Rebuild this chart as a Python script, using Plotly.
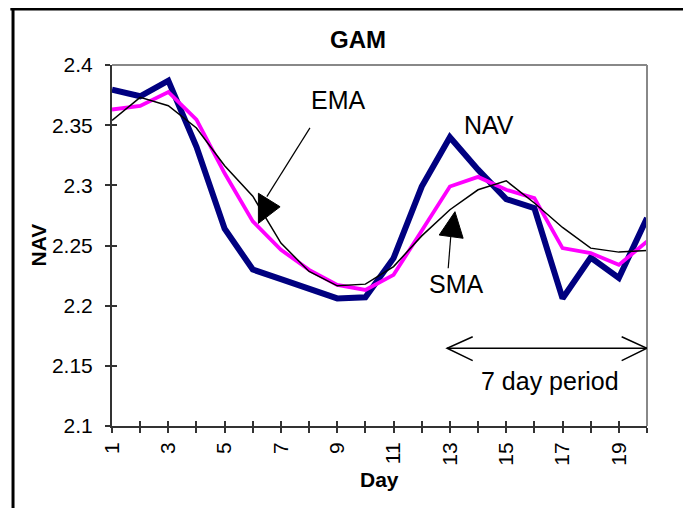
import plotly.graph_objects as go

# Day-by-day NAV for GAM with its simple and exponential moving averages
days = list(range(1, 21))
nav = [2.3795, 2.374, 2.387, 2.332, 2.264, 2.230, 2.222, 2.2146, 2.206, 2.207,
       2.2395, 2.299, 2.340, 2.313, 2.2886, 2.281, 2.206, 2.240, 2.223, 2.2728]
sma = [2.363, 2.366, 2.3776, 2.3546, 2.310, 2.270, 2.2464, 2.2298, 2.2173, 2.2131,
       2.2256, 2.262, 2.299, 2.307, 2.2963, 2.2894, 2.2478, 2.2437, 2.2339, 2.2533]
ema = [2.354, 2.3731, 2.3662, 2.3477, 2.3163, 2.291, 2.252, 2.2284, 2.2165, 2.2179,
       2.2325, 2.258, 2.2797, 2.2963, 2.3038, 2.2853, 2.265, 2.2478, 2.2445, 2.2459]

x_ticktext = [str(d) if d % 2 == 1 else "" for d in days]
y_tickvals = [2.1, 2.15, 2.2, 2.25, 2.3, 2.35, 2.4]
y_ticktext = ["2.1", "2.15", "2.2", "2.25", "2.3", "2.35", "2.4"]

FONT = "Arial, Liberation Sans, sans-serif"
AXIS = "#333333"

fig = go.Figure()
fig.add_trace(go.Scatter(x=days, y=nav, mode="lines", name="NAV",
                         line=dict(color="#000080", width=6)))
fig.add_trace(go.Scatter(x=days, y=sma, mode="lines", name="SMA",
                         line=dict(color="#FF00FF", width=3.8)))
# EMA sits on the overlay axes, which also carry the inner half of the ticks
fig.add_trace(go.Scatter(x=days, y=ema, mode="lines", name="EMA",
                         xaxis="x2", yaxis="y2",
                         line=dict(color="black", width=1.5)))

# page body has an 8px margin, so the figure is laid out 8px up/left
fig.update_layout(
    width=691, height=508,
    margin=dict(l=104, r=52, t=57, b=90),
    paper_bgcolor="white", plot_bgcolor="white",
    showlegend=False,
    font=dict(family=FONT, size=21, color="black"),
    title=dict(text="<b>GAM</b>", x=350 / 691, y=1 - 32 / 508,
               xanchor="center", yanchor="middle",
               font=dict(family=FONT, size=24, color="black")),
    xaxis=dict(range=[1, 20], tickvals=days, ticktext=x_ticktext, tickangle=-90,
               ticks="outside", ticklen=5, tickwidth=1.5, tickcolor=AXIS,
               ticklabelstandoff=1,
               showline=True, linecolor=AXIS, linewidth=2,
               showgrid=False, zeroline=False),
    yaxis=dict(range=[2.1, 2.4], tickvals=y_tickvals, ticktext=y_ticktext,
               ticks="outside", ticklen=5, tickwidth=1.5, tickcolor=AXIS,
               ticklabelstandoff=8,
               showline=True, linecolor=AXIS, linewidth=2,
               showgrid=False, zeroline=False),
    xaxis2=dict(overlaying="x", matches="x", anchor="y", side="bottom",
                range=[1, 20], tickvals=days, ticks="inside", ticklen=5,
                tickwidth=1.5, tickcolor=AXIS, showticklabels=False,
                showline=False, showgrid=False, zeroline=False),
    yaxis2=dict(overlaying="y", matches="y", anchor="x", side="left",
                range=[2.1, 2.4], tickvals=y_tickvals, ticks="inside", ticklen=5,
                tickwidth=1.5, tickcolor=AXIS, showticklabels=False,
                showline=False, showgrid=False, zeroline=False),
)

# gray top/right plot frame and the black outer border of the picture
fig.add_shape(type="line", xref="paper", yref="paper", x0=0, y0=1, x1=1, y1=1,
              line=dict(color="#888888", width=2))
fig.add_shape(type="line", xref="paper", yref="paper", x0=1, y0=0, x1=1, y1=1,
              line=dict(color="#888888", width=2))
fig.add_shape(type="line", xref="paper", yref="paper", x0=-0.185, y0=-0.3, x1=-0.185, y1=1.155,
              line=dict(color="black", width=3))
fig.add_shape(type="line", xref="paper", yref="paper", x0=-0.19, y0=1.155, x1=1.2, y1=1.155,
              line=dict(color="black", width=3))

# callout arrows
fig.add_shape(type="line", x0=8.03, y0=2.3477, x1=6.5, y1=2.2906,
              line=dict(color="black", width=1.2))
fig.add_shape(type="path", path="M 6.2 2.2934 L 6.2 2.2684 L 6.97 2.2822 Z",
              fillcolor="black", line=dict(color="black", width=1))
fig.add_shape(type="line", x0=12.94, y0=2.2311, x1=13.03, y1=2.2573,
              line=dict(color="black", width=1.2))
fig.add_shape(type="path", path="M 12.62 2.2587 L 13.47 2.256 L 13.18 2.2781 Z",
              fillcolor="black", line=dict(color="black", width=1))

# 7 day period double arrow
fig.add_shape(type="line", x0=12.9, y0=2.1646, x1=20, y1=2.1646,
              line=dict(color="black", width=1.5))
fig.add_shape(type="path", path="M 13.81 2.1742 L 12.9 2.1646 L 13.81 2.1543",
              line=dict(color="black", width=1.5))
fig.add_shape(type="path", path="M 19.1 2.1742 L 20 2.1646 L 19.1 2.1543",
              line=dict(color="black", width=1.5))

for text, x, y in [("EMA", 9.03, 2.371), ("NAV", 14.4, 2.350),
                   ("SMA", 13.23, 2.2176), ("7 day period", 16.57, 2.1374)]:
    fig.add_annotation(text=text, x=x, y=y, showarrow=False,
                       font=dict(family=FONT, size=25, color="black"))

fig.add_annotation(text="<b>Day</b>", xref="paper", yref="paper", x=0.5, y=(426 - 479) / 361,
                   showarrow=False, yanchor="middle",
                   font=dict(family=FONT, size=21, color="black"))
fig.add_annotation(text="<b>NAV</b>", xref="paper", yref="paper", x=(38 - 112) / 535, y=0.5,
                   textangle=-90, showarrow=False, xanchor="center",
                   font=dict(family=FONT, size=21, color="black"))

fig.write_html("out.html")
